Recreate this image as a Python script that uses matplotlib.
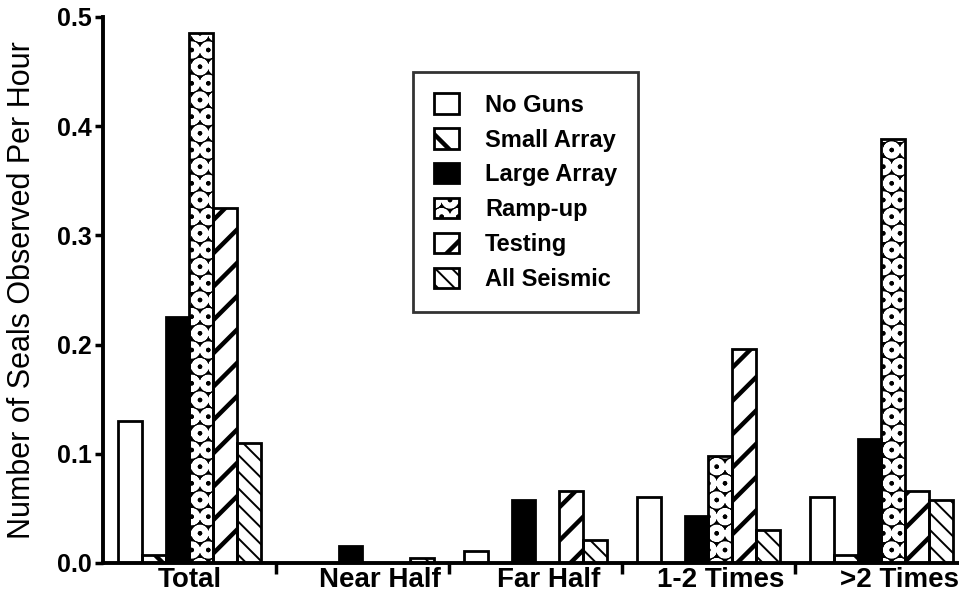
import matplotlib
matplotlib.use("Agg")
import matplotlib.pyplot as plt
import matplotlib.patches as mpatches
import numpy as np
from matplotlib.legend_handler import HandlerTuple

plt.rcParams['font.family'] = ['Liberation Sans', 'DejaVu Sans']

categories = ["Total", "Near Half", "Far Half", "1-2 Times", ">2 Times"]
series_names = ["No Guns", "Small Array", "Large Array", "Ramp-up", "Testing", "All Seismic"]
no_guns     = [0.130, 0.000, 0.011, 0.060, 0.060]
small_array = [0.007, 0.000, 0.000, 0.000, 0.007]
large_array = [0.225, 0.016, 0.058, 0.043, 0.114]
ramp_up     = [0.485, 0.000, 0.000, 0.098, 0.388]
testing     = [0.325, 0.000, 0.066, 0.196, 0.066]
all_seismic = [0.110, 0.005, 0.021, 0.030, 0.058]
values = [no_guns, small_array, large_array, ramp_up, testing, all_seismic]
y_ticks = [0.0, 0.1, 0.2, 0.3, 0.4, 0.5]
y_label = "Number of Seals Observed Per Hour"

# styles: (face, hatch colour, hatch, hatch lw)
styles = [
    ("white", "black", None, 1.0),
    ("white", "black", "\\", 3.2),
    ("black", "black", None, 1.0),
    ("black", "white", "O", 4.0),
    ("white", "black", "/", 3.2),
    ("white", "black", "\\\\", 1.4),
]
hatch_lw = {s[2]: s[3] for s in styles if s[2]}

fig = plt.figure(figsize=(9.59, 6.02), dpi=100)
ax = fig.add_axes([103/959, 1-563/602, 1-103/959, (563-17)/602])

x = np.arange(len(categories))
w = 0.1377
handles = []
for i, (name, vals) in enumerate(zip(series_names, values)):
    face, hcol, hatch, hlw = styles[i]
    pos = x + (i - 2.5) * w
    b1 = ax.bar(pos, vals, width=w, facecolor=face, edgecolor=hcol,
                hatch=hatch, linewidth=0, zorder=2)
    for p in b1.patches:
        try:
            p.set_hatch_linewidth(hlw)
        except AttributeError:
            pass
    b2 = ax.bar(pos, vals, width=w, facecolor="none", edgecolor="black",
                linewidth=2.0, zorder=3)
    handles.append((b1, b2))

ax.set_xlim(-0.5, 4.448)
ax.set_ylim(0, 0.5)
ax.set_yticks(y_ticks)
ax.set_yticklabels([f"{t:.1f}" for t in y_ticks], fontsize=18, fontweight='bold')
# category labels sit slightly right of the group centres in the original
label_shift = np.array([0.0, 0.10, 0.075, 0.07, 0.105])
ax.set_xticks(x + label_shift)
ax.set_xticklabels(categories, fontsize=20, fontweight='bold')
ax.set_xticks([0.5, 1.5, 2.5, 3.5], minor=True)
ax.tick_params(axis='x', which='major', length=0, pad=3)
ax.tick_params(axis='x', which='minor', length=8, width=2.5, direction='out')
ax.tick_params(axis='y', length=6, width=2.5, direction='out', pad=2)
for s in ['top', 'right']:
    ax.spines[s].set_visible(False)
for s in ['left', 'bottom']:
    ax.spines[s].set_linewidth(2.8)
ax.set_ylabel(y_label, fontsize=22)
ax.yaxis.set_label_coords(-0.077, 0.5)

leg = ax.legend(handles, series_names, handler_map={tuple: HandlerTuple(ndivide=1)},
                loc='upper left', bbox_to_anchor=(0.362, 0.899),
                prop={'size': 17, 'weight': 'bold'}, frameon=True, fancybox=False,
                edgecolor='black',
                handlelength=1.05, handleheight=0.95, labelspacing=0.49,
                handletextpad=1.1, borderpad=0.9, borderaxespad=0)
leg.get_frame().set_linewidth(2.0)
for p in leg.findobj(mpatches.Rectangle):
    h = p.get_hatch()
    if h in hatch_lw:
        try:
            p.set_hatch_linewidth(hatch_lw[h])
        except AttributeError:
            pass

fig.savefig("out.png", dpi=100)
